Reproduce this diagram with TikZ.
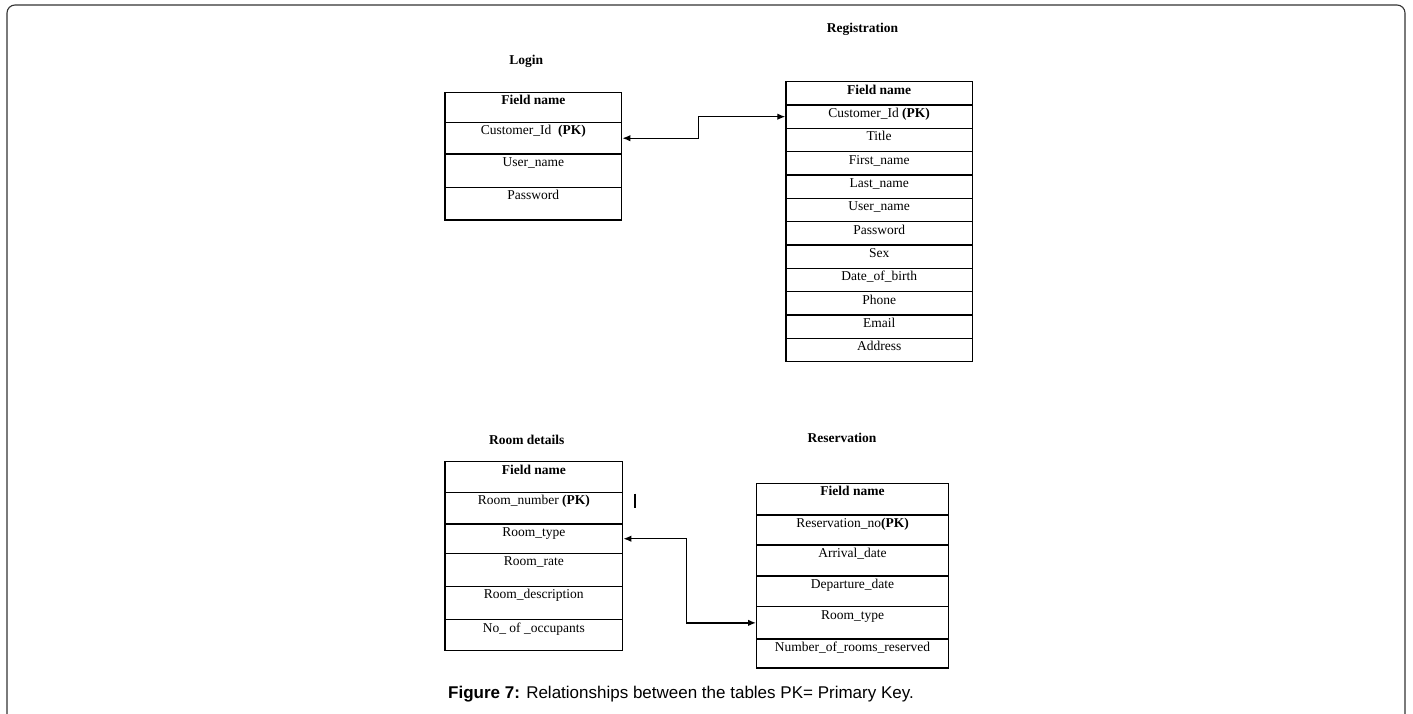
\documentclass[tikz,border=0pt]{standalone}
\usepackage{fontspec}
\setmainfont{Liberation Serif}
\newfontfamily\capfont{Liberation Sans}
\usetikzlibrary{arrows.meta}
\begin{document}
\begin{tikzpicture}[x=1pt,y=-1pt,
  fld/.style={draw, line width=1.4pt, inner sep=0pt, anchor=north, text height=12.5pt,
              font=\fontsize{13.5}{15}\selectfont},
  lgrow/.style={fld, minimum width=176.7pt, text depth=#1},
  rgrow/.style={fld, minimum width=186.3pt, text depth=10.8pt},
  rmrow/.style={fld, minimum width=177.7pt, text depth=#1},
  rsrow/.style={fld, minimum width=191.6pt, text depth=#1},
  ttl/.style={anchor=base, font=\fontsize{13.5}{15}\selectfont\bfseries},
  link/.style={line width=1.3pt, {Latex[length=8pt,width=6.5pt]}-{Latex[length=8pt,width=6.5pt]}},
  frame/.style={line width=1.1pt, draw=black!80, rounded corners=8pt}
]
\useasboundingbox (0,0) rectangle (1413,713);

% outer frame, open at the bottom
\draw[frame] (7,720) -- (7,5) -- (1405,5) -- (1405,720);

% ---- Login ----
\node[ttl] (tlogin) at (526.3,64.5) {Login};
\node[lgrow=17.5pt] (l1) at (533.35,91.7)  {\textbf{Field name}};
\node[lgrow=19.1pt] (l2) at (533.35,121.7) {Customer\_Id\ \ \textbf{(PK)}};
\node[lgrow=20.9pt] (l3) at (533.35,153.3) {User\_name};
\node[lgrow=20.1pt] (l4) at (533.35,186.7) {Password};

% ---- Registration ----
\node[ttl] (treg) at (862.5,32.5) {Registration};
\node[rgrow] (r1)  at (879.15,81)     {\textbf{Field name}};
\node[rgrow] (r2)  at (879.15,104.33) {Customer\_Id \textbf{(PK)}};
\node[rgrow] (r3)  at (879.15,127.67) {Title};
\node[rgrow] (r4)  at (879.15,151)    {First\_name};
\node[rgrow] (r5)  at (879.15,174.33) {Last\_name};
\node[rgrow] (r6)  at (879.15,197.67) {User\_name};
\node[rgrow] (r7)  at (879.15,221)    {Password};
\node[rgrow] (r8)  at (879.15,244.33) {Sex};
\node[rgrow] (r9)  at (879.15,267.67) {Date\_of\_birth};
\node[rgrow] (r10) at (879.15,291)    {Phone};
\node[rgrow] (r11) at (879.15,314.33) {Email};
\node[rgrow] (r12) at (879.15,337.67) {Address};

% ---- Room details ----
\node[ttl] (troom) at (526.8,444.5) {Room details};
\node[rmrow=18.2pt] (m1) at (533.85,461)   {\textbf{Field name}};
\node[rmrow=19.1pt] (m2) at (533.85,491.7) {Room\_number \textbf{(PK)}};
\node[rmrow=16.9pt] (m3) at (533.85,523.3) {Room\_type};
\node[rmrow=20.5pt] (m4) at (533.85,552.7) {Room\_rate};
\node[rmrow=20.8pt] (m5) at (533.85,585.7) {Room\_description};
\node[rmrow=18.5pt] (m6) at (533.85,619)   {No\_ of \_occupants};

% ---- Reservation ----
\node[ttl] (tres) at (842,442.5) {Reservation};
\node[rsrow=19.1pt] (s1) at (852.5,482.7) {\textbf{Field name}};
\node[rsrow=17.5pt] (s2) at (852.5,514.3) {Reservation\_no\textbf{(PK)}};
\node[rsrow=18.5pt] (s3) at (852.5,544.3) {Arrival\_date};
\node[rsrow=18.2pt] (s4) at (852.5,575.3) {Departure\_date};
\node[rsrow=19.8pt] (s5) at (852.5,606)   {Room\_type};
\node[rsrow=16.5pt] (s6) at (852.5,638.3) {Number\_of\_rooms\_reserved};

% small stray bar beside Room_number
\draw[line width=1.2pt] (635,493.5) -- (635,507.5);

% ---- relationships ----
\coordinate (k1) at (698.3,0);
\coordinate (k2) at (686.5,0);
\draw[link] (l2.east) -| (k1 |- r2.west) -- (r2.west);
\draw[link] (m3.east) -| (k2 |- s5.west) -- (s5.west);

% ---- caption ----
\node[anchor=base, font=\capfont\fontsize{17}{20}\selectfont] (cap) at (681,698)
  {\textbf{Figure 7:} Relationships between the tables PK= Primary Key.};
\end{tikzpicture}
\end{document}
